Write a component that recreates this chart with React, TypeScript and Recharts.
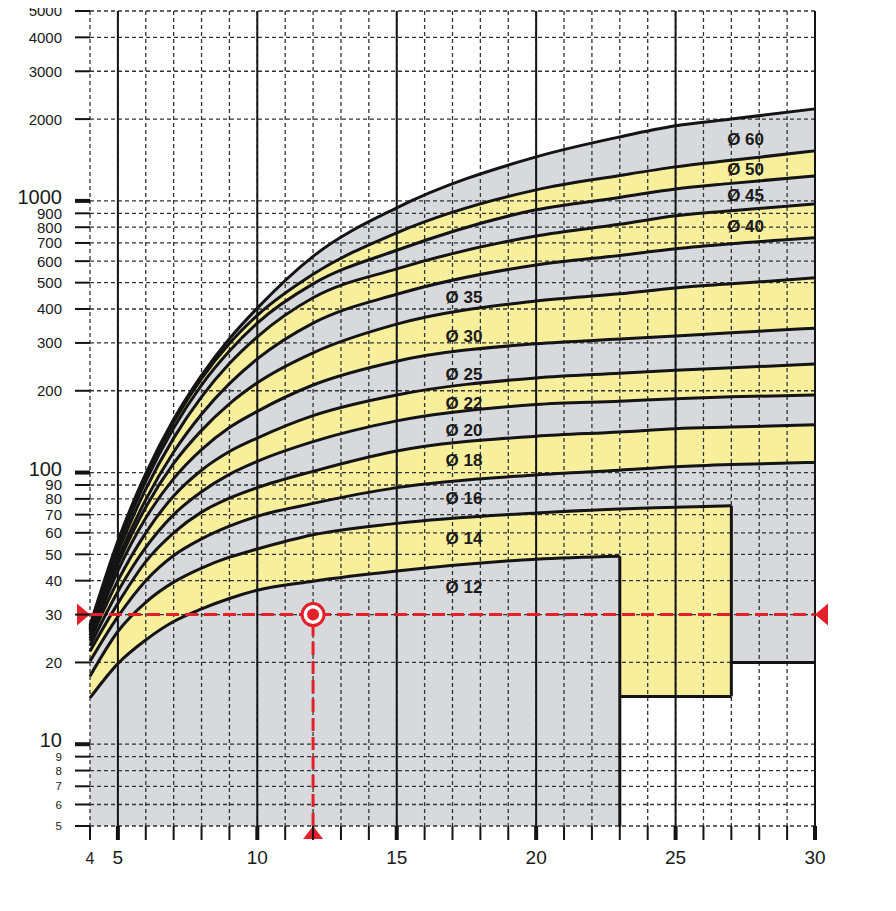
import React from "react";
import {
  ComposedChart,
  Area,
  Line,
  XAxis,
  YAxis,
  CartesianGrid,
  ReferenceLine,
  Scatter,
} from "recharts";

const FONT = '"Liberation Sans", Arial, Helvetica, sans-serif';
const GRAY = "#d7d9dd";
const YELLOW = "#f8ef9c";
const RED = "#e3212b";
const INK = "#141414";

// x positions where the curves were read
const xValues = [4, 5, 6, 7, 8, 9, 10, 12, 15, 20, 23, 25, 27, 30];

// upper boundary of each band (null once the band has stopped)
const top12 = [14.8, 19.8, 24.2, 28.3, 31.5, 34.4, 36.9, 39.8, 43.4, 48, 49.2, null, null, null];
const top14 = [17.8, 26, 33.3, 39.5, 44.5, 48.8, 52.3, 59, 65, 71, 73.5, 74.5, 75.5, null];
const top16 = [20.2, 29.5, 40, 49.5, 57, 63.5, 69, 77, 88, 98, 102, 105, 107, 109];
const top18 = [22, 33, 47, 60, 71.5, 80.5, 88, 101, 120, 136, 141, 145, 147, 150];
const top20 = [23, 36.5, 53, 70, 85, 98.5, 110, 130, 155, 178, 183, 187, 190, 193];
const top22 = [24, 40, 60, 82, 102, 119.5, 134, 162, 193, 223, 232, 238, 243, 251];
const top25 = [24.6, 43.5, 68, 95, 121.5, 146.5, 168, 210, 257, 298, 310, 318, 327, 340];
const top30 = [25.2, 46, 74.5, 108, 143, 179, 214, 276, 352, 428, 455, 478, 495, 521];
const top35 = [25.7, 48, 79.5, 119, 164, 212.4, 262, 355, 453, 581, 630, 666, 695, 731];
const top40 = [26.2, 50.8, 86.9, 133.9, 190, 251.8, 316, 440, 562, 743, 820, 881, 920, 975];
const top45 = [26.6, 53.3, 93, 146, 210, 280, 355, 495, 658, 927, 1030, 1107, 1160, 1236];
const top50 = [27, 54.8, 96.9, 153.2, 221.6, 298.4, 379, 537, 763, 1098, 1240, 1334, 1410, 1528];
const top60 = [27.4, 56, 99, 157, 228, 311, 403, 625, 943, 1452, 1720, 1889, 2000, 2181];

const curves = [top12, top14, top16, top18, top20, top22, top25, top30, top35, top40, top45, top50, top60];

// band labels: text, x start, y centre
const bandLabels = [
  { name: "Ø 12", x: 16.75, y: 37.9 },
  { name: "Ø 14", x: 16.75, y: 57.4 },
  { name: "Ø 16", x: 16.75, y: 80.5 },
  { name: "Ø 18", x: 16.75, y: 111 },
  { name: "Ø 20", x: 16.75, y: 143 },
  { name: "Ø 22", x: 16.75, y: 180 },
  { name: "Ø 25", x: 16.75, y: 230 },
  { name: "Ø 30", x: 16.75, y: 318 },
  { name: "Ø 35", x: 16.75, y: 442 },
  { name: "Ø 40", x: 26.85, y: 806 },
  { name: "Ø 45", x: 26.85, y: 1049 },
  { name: "Ø 50", x: 26.85, y: 1307 },
  { name: "Ø 60", x: 26.85, y: 1685 },
];

// steps at the right end of the small bands
const yMin = 5;
const yMax = 5000;
const cut12 = 23;
const cut14 = 27;
const floor14 = 15;
const floor16 = 20;

// left axis ticks
const leftTicks = [5, 6, 7, 8, 9, 10, 20, 30, 40, 50, 60, 70, 80, 90, 100, 200, 300, 400, 500, 600, 700, 800, 900, 1000, 2000, 3000, 4000, 5000];
// right axis: same scale, other reading
const rightTicks = [10, 20, 30, 40, 50, 60, 70, 80, 90, 100, 200, 300, 400, 500, 600, 700, 800, 900, 1000];
const rightLabels = [7, 9, 11, 12, 13, 14, 15, 16, 17, 18, 24, 28, 31, 33, 36, 38, 40, 42, 44];

const xGridTicks = Array.from({ length: 27 }, (_, i) => i + 4);
const xLabelTicks = [4, 5, 10, 15, 20, 25, 30];
const xMajor = [5, 10, 15, 20, 25, 30];

// example reading (red)
const readX = 12;
const readY = 30;

const rows = xValues.map((x, i) => {
  const r: any = { x };
  curves.forEach((c, k) => {
    r[`c${k}`] = c[i];
  });
  return r;
});

const bandKey = (k: number) => (r: any) => {
  const hi = r[`c${k}`];
  const lo = k === 0 ? yMin : r[`c${k - 1}`];
  return hi == null || lo == null ? null : [lo, hi];
};

const ext14Key = (r: any) => (r.x >= 20 && r.x <= cut14 ? [floor14, r.c1] : null);
const ext16Key = (r: any) => (r.x >= 25 ? [floor16, r.c2] : null);

const markers = [
  { x: 4, y: readY, kind: "right" },
  { x: 30, y: readY, kind: "left" },
  { x: readX, y: yMin, kind: "up" },
  { x: readX, y: readY, kind: "target" },
];

function LeftTick({ x, y, payload }: any) {
  const v = payload.value;
  const decade = v === 10 || v === 100 || v === 1000;
  const size = decade ? 20 : v < 10 ? 11.5 : 15;
  // the decade labels sit a little above their tick
  const lift = decade ? 4 : 0;
  return (
    <g>
      <line x1={x - 15} x2={x} y1={y} y2={y} stroke={INK} strokeWidth={decade ? 4 : 2} />
      <text x={x - 28} y={y + size * 0.36 - lift} textAnchor="end" fontSize={size} fill="#1a1a1a" fontFamily={FONT}>
        {v}
      </text>
    </g>
  );
}

function RightTick({ x, y, payload }: any) {
  const idx = rightTicks.indexOf(payload.value);
  return (
    <g>
      <line x1={x} x2={x + 16} y1={y} y2={y} stroke={INK} strokeWidth={2} />
      <text x={x + 24} y={y + 5.6} textAnchor="start" fontSize={15.5} fill="#1a1a1a" fontFamily={FONT}>
        {rightLabels[idx]}
      </text>
    </g>
  );
}

function BottomTick({ x, y, payload }: any) {
  const v = payload.value;
  const major = xMajor.includes(v);
  const size = v === 4 ? 16 : 19;
  return (
    <g>
      <line x1={x} x2={x} y1={y} y2={y + 14} stroke={INK} strokeWidth={major ? 4 : 2} />
      {xLabelTicks.includes(v) && (
        <text x={x} y={y + 38} textAnchor="middle" fontSize={size} fill="#1a1a1a" fontFamily={FONT}>
          {v}
        </text>
      )}
    </g>
  );
}

function Marker({ cx, cy, payload }: any) {
  if (payload.kind === "right")
    return <polygon points={`${cx},${cy} ${cx - 13},${cy - 11} ${cx - 13},${cy + 11}`} fill={RED} />;
  if (payload.kind === "left")
    return <polygon points={`${cx},${cy} ${cx + 13},${cy - 11} ${cx + 13},${cy + 11}`} fill={RED} />;
  if (payload.kind === "up")
    return <polygon points={`${cx},${cy} ${cx - 10},${cy + 13} ${cx + 10},${cy + 13}`} fill={RED} />;
  return (
    <g>
      <circle cx={cx} cy={cy} r={11} fill="#fff" stroke={RED} strokeWidth={3} />
      <circle cx={cx} cy={cy} r={6} fill={RED} />
    </g>
  );
}

function BandLabel({ cx, cy, payload }: any) {
  return (
    <text x={cx} y={cy + 6} textAnchor="start" fontSize={17} fontWeight="bold" fill="#1a1a1a" fontFamily={FONT}>
      {payload.name}
    </text>
  );
}

export default function App() {
  return (
    <div style={{ width: 888, height: 903, margin: "-8px 0 0 -8px" }}>
      <ComposedChart width={888} height={903} data={rows} margin={{ top: 11, right: 0, bottom: 0, left: 0 }}>
        <XAxis
          type="number"
          dataKey="x"
          domain={[4, 30]}
          ticks={xGridTicks}
          interval={0}
          tick={<BottomTick />}
          tickSize={0}
          tickMargin={0}
          tickLine={false}
          axisLine={false}
          height={77}
        />
        <YAxis
          scale="log"
          domain={[yMin, yMax]}
          ticks={leftTicks}
          interval={0}
          tick={<LeftTick />}
          tickSize={0}
          tickMargin={0}
          tickLine={false}
          axisLine={false}
          width={90}
        />
        <YAxis
          yAxisId="right"
          orientation="right"
          scale="log"
          domain={[yMin, yMax]}
          ticks={rightTicks}
          interval={0}
          tick={<RightTick />}
          tickSize={0}
          tickMargin={0}
          tickLine={false}
          axisLine={false}
          width={73}
        />

        <Area dataKey={ext16Key} type="monotone" stroke="none" fill={GRAY} fillOpacity={1} isAnimationActive={false} zIndex={100} />
        <Area dataKey={ext14Key} type="monotone" stroke="none" fill={YELLOW} fillOpacity={1} isAnimationActive={false} zIndex={100} />
        {curves.map((_, k) => (
          <Area
            key={`band${k}`}
            dataKey={bandKey(k)}
            type="monotone"
            stroke="none"
            fill={k % 2 === 0 ? GRAY : YELLOW}
            fillOpacity={1}
            isAnimationActive={false}
            zIndex={101}
          />
        ))}

        <CartesianGrid stroke="#333" strokeDasharray="4 3" strokeWidth={1.3} zIndex={150} />
        {xMajor.map((v) => (
          <ReferenceLine key={`mx${v}`} x={v} stroke={INK} strokeWidth={2} zIndex={160} />
        ))}

        {curves.map((_, k) => (
          <Line
            key={`curve${k}`}
            dataKey={`c${k}`}
            type="monotone"
            stroke={INK}
            strokeWidth={3}
            dot={false}
            activeDot={false}
            isAnimationActive={false}
            zIndex={300}
          />
        ))}
        <ReferenceLine segment={[{ x: cut12, y: yMin }, { x: cut12, y: top12[xValues.indexOf(cut12)] as number }]} stroke={INK} strokeWidth={3} zIndex={310} />
        <ReferenceLine segment={[{ x: cut14, y: floor14 }, { x: cut14, y: top14[xValues.indexOf(cut14)] as number }]} stroke={INK} strokeWidth={3} zIndex={310} />
        <ReferenceLine segment={[{ x: cut12, y: floor14 }, { x: cut14, y: floor14 }]} stroke={INK} strokeWidth={3} zIndex={310} />
        <ReferenceLine segment={[{ x: cut14, y: floor16 }, { x: 30, y: floor16 }]} stroke={INK} strokeWidth={3} zIndex={310} />

        <ReferenceLine y={readY} stroke={RED} strokeWidth={3} strokeDasharray="13 6" zIndex={400} />
        <ReferenceLine segment={[{ x: readX, y: yMin }, { x: readX, y: readY }]} stroke={RED} strokeWidth={3} strokeDasharray="13 6" zIndex={400} />
        <Scatter data={markers} dataKey="y" shape={<Marker />} isAnimationActive={false} zIndex={450} />
        <Scatter data={bandLabels} dataKey="y" shape={<BandLabel />} isAnimationActive={false} zIndex={500} />
      </ComposedChart>
    </div>
  );
}
